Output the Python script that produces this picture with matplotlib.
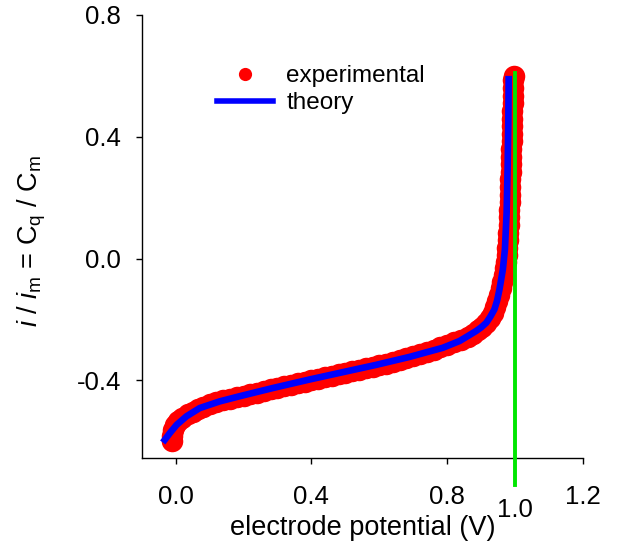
import numpy as np
import matplotlib
matplotlib.use('Agg')
import matplotlib.pyplot as plt
from matplotlib.lines import Line2D

plt.rcParams['font.family'] = ['Liberation Sans', 'DejaVu Sans']
plt.rcParams['mathtext.fontset'] = 'custom'
plt.rcParams['mathtext.rm'] = 'Liberation Sans'
plt.rcParams['mathtext.it'] = 'Liberation Sans:italic'
plt.rcParams['axes.unicode_minus'] = False

# experimental points (potential in V, normalised current)
exp_v = [-0.012, -0.010, -0.008, -0.002, 0.008, 0.020, 0.035, 0.050, 0.065, 0.080,
         0.100, 0.120, 0.140, 0.160, 0.180, 0.200, 0.220, 0.240, 0.260, 0.280,
         0.300, 0.320, 0.340, 0.360, 0.380, 0.400, 0.420, 0.440, 0.460, 0.480,
         0.500, 0.520, 0.540, 0.560, 0.580, 0.600, 0.620, 0.640, 0.660, 0.680,
         0.700, 0.720, 0.740, 0.760, 0.780, 0.800, 0.820, 0.840, 0.860, 0.875,
         0.890, 0.903, 0.915, 0.925, 0.934, 0.942, 0.948, 0.953, 0.958, 0.962,
         0.966, 0.970, 0.973, 0.975, 0.977, 0.979, 0.980, 0.981, 0.982, 0.983,
         0.984, 0.985, 0.986, 0.986, 0.987, 0.988, 0.989, 0.989, 0.990, 0.990,
         0.991, 0.992, 0.992, 0.993, 0.994, 0.995, 0.995, 0.996]
exp_i = [-0.600, -0.582, -0.562, -0.545, -0.532, -0.522, -0.512, -0.503, -0.494, -0.487,
         -0.479, -0.472, -0.466, -0.460, -0.455, -0.450, -0.445, -0.440, -0.435, -0.430,
         -0.425, -0.420, -0.415, -0.410, -0.405, -0.400, -0.395, -0.390, -0.385, -0.380,
         -0.375, -0.370, -0.365, -0.360, -0.355, -0.350, -0.345, -0.339, -0.333, -0.327,
         -0.321, -0.314, -0.307, -0.300, -0.292, -0.284, -0.275, -0.266, -0.256, -0.247,
         -0.236, -0.224, -0.210, -0.195, -0.178, -0.160, -0.140, -0.120, -0.098, -0.076,
         -0.054, -0.032, -0.010, 0.012, 0.035, 0.060, 0.085, 0.110, 0.135, 0.160,
         0.185, 0.210, 0.235, 0.260, 0.285, 0.310, 0.335, 0.360, 0.385, 0.410,
         0.435, 0.460, 0.485, 0.510, 0.535, 0.560, 0.585, 0.600]

# theory curve
th_v = [-0.038, -0.017, 0.003, 0.032, 0.071, 0.130, 0.189, 0.287, 0.395, 0.493,
        0.591, 0.689, 0.787, 0.836, 0.860, 0.885, 0.900, 0.915, 0.927, 0.939,
        0.947, 0.954, 0.959, 0.964, 0.970, 0.975, 0.978, 0.980, 0.981]
th_i = [-0.604, -0.573, -0.546, -0.518, -0.491, -0.469, -0.452, -0.425, -0.397, -0.373,
        -0.349, -0.323, -0.293, -0.271, -0.255, -0.238, -0.226, -0.211, -0.191, -0.167,
        -0.138, -0.101, -0.068, -0.035, 0.031, 0.150, 0.300, 0.450, 0.600]

marker_v = 1.0
marker_span = [0.61, -0.745]

fig = plt.figure(figsize=(6.18, 5.58), dpi=100)
ax = fig.add_axes([141.7/618, 1-458/558, (583-141.7)/618, (458-15)/558])

ax.plot(exp_v, exp_i, 'o', color='#ff0000', ms=15.5, mec='none', zorder=2)
ax.plot(th_v, th_i, '-', color='#0000ff', lw=4.8, solid_capstyle='butt', zorder=3)
ax.plot([marker_v, marker_v], marker_span, '-', color='#00e600', lw=2.8,
        clip_on=False, zorder=4)

ax.set_xlim(-0.1, 1.2)
ax.set_ylim(-0.655, 0.8)
ax.set_xticks([0.0, 0.4, 0.8, 1.2])
ax.set_yticks([-0.4, 0.0, 0.4, 0.8])
ax.xaxis.set_major_formatter(matplotlib.ticker.FormatStrFormatter('%.1f'))
ax.yaxis.set_major_formatter(matplotlib.ticker.FormatStrFormatter('%.1f'))
ax.tick_params(axis='both', direction='out', length=4.5, width=1, labelsize=18.5)
ax.tick_params(axis='x', pad=15)
ax.tick_params(axis='y', pad=10.5)
for s in ['top', 'right']:
    ax.spines[s].set_visible(False)
for s in ['left', 'bottom']:
    ax.spines[s].set_linewidth(1)

ax.text(marker_v, -0.825, '1.0', ha='center', va='center', fontsize=18.5, clip_on=False)

ax.set_xlabel('electrode potential (V)', fontsize=19.5, labelpad=4)
ax.set_ylabel(r'$i$ / $i_\mathrm{m}$ = C$_\mathrm{q}$ / C$_\mathrm{m}$', fontsize=19.5)
ax.yaxis.set_label_coords(-0.212, 0.49)

handles = [Line2D([], [], marker='o', color='#ff0000', ls='none', ms=9.5, mec='none'),
           Line2D([], [], color='#0000ff', lw=4)]
ax.legend(handles, ['experimental', 'theory'], loc='upper left',
          bbox_to_anchor=(217/618, 1-65/558), bbox_transform=fig.transFigure,
          frameon=False, fontsize=17.5, handlelength=2.3, handletextpad=0.55,
          labelspacing=0.22, borderpad=0, borderaxespad=0)

fig.savefig('out.png', dpi=100)
